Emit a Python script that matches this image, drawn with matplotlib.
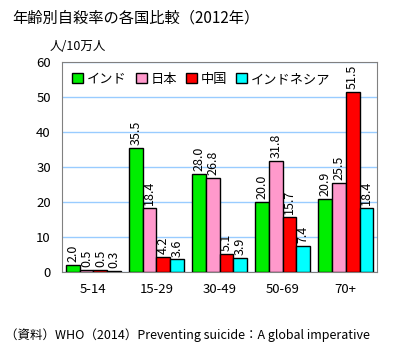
import numpy as np
import matplotlib
matplotlib.use("Agg")
import matplotlib.pyplot as plt

plt.rcParams['font.family'] = ['Noto Sans CJK JP', 'DejaVu Sans']

# データ（WHO 2014）
age_groups = ["5-14", "15-29", "30-49", "50-69", "70+"]
countries = ["インド", "日本", "中国", "インドネシア"]
india = [2.0, 35.5, 28.0, 20.0, 20.9]
japan = [0.5, 18.4, 26.8, 31.8, 25.5]
china = [0.5, 4.2, 5.1, 15.7, 51.5]
indonesia = [0.3, 3.6, 3.9, 7.4, 18.4]
colors = ["#00ee00", "#ff99cc", "#ff0000", "#00ffff"]

series = [india, japan, china, indonesia]

fig = plt.figure(figsize=(4.1, 3.55), dpi=100)
ax = fig.add_axes([0.151, 0.234, 0.769, 0.591])

x = np.arange(len(age_groups))
w = 0.22
for i, (vals, c, name) in enumerate(zip(series, colors, countries)):
    pos = x + (i - 1.5) * w
    ax.bar(pos, vals, width=w, color=c, edgecolor="black", linewidth=1, label=name, zorder=3)
    for p, v in zip(pos, vals):
        ax.text(p, v + 0.8, f"{v:.1f}", rotation=90, ha="center", va="bottom",
                fontsize=9, zorder=4)

ax.set_xlim(-0.5, 4.5)
ax.set_ylim(0, 60)
ax.set_yticks(range(0, 61, 10))
ax.set_xticks(x)
ax.set_xticklabels(age_groups, fontsize=9.5)
ax.tick_params(axis="y", labelsize=9.5, length=0, pad=8)
ax.tick_params(axis="x", length=0, pad=8)
ax.grid(axis="y", color="#99ccff", linewidth=1, zorder=0)
for s in ax.spines.values():
    s.set_color("#808080")

ax.legend(loc="upper left", bbox_to_anchor=(0.0, 1.0), ncol=4, frameon=False,
          fontsize=9.5, handlelength=0.8, handleheight=0.8, handletextpad=0.3,
          columnspacing=0.7, borderaxespad=0.4)

fig.text(0.03, 0.95, "年齢別自殺率の各国比較（2012年）", fontsize=11, va="center")
fig.text(0.122, 0.868, "人/10万人", fontsize=9, va="center")
fig.text(0.012, 0.055, "（資料）WHO（2014）Preventing suicide：A global imperative",
         fontsize=9, va="center")

fig.savefig("out.png", dpi=100)
